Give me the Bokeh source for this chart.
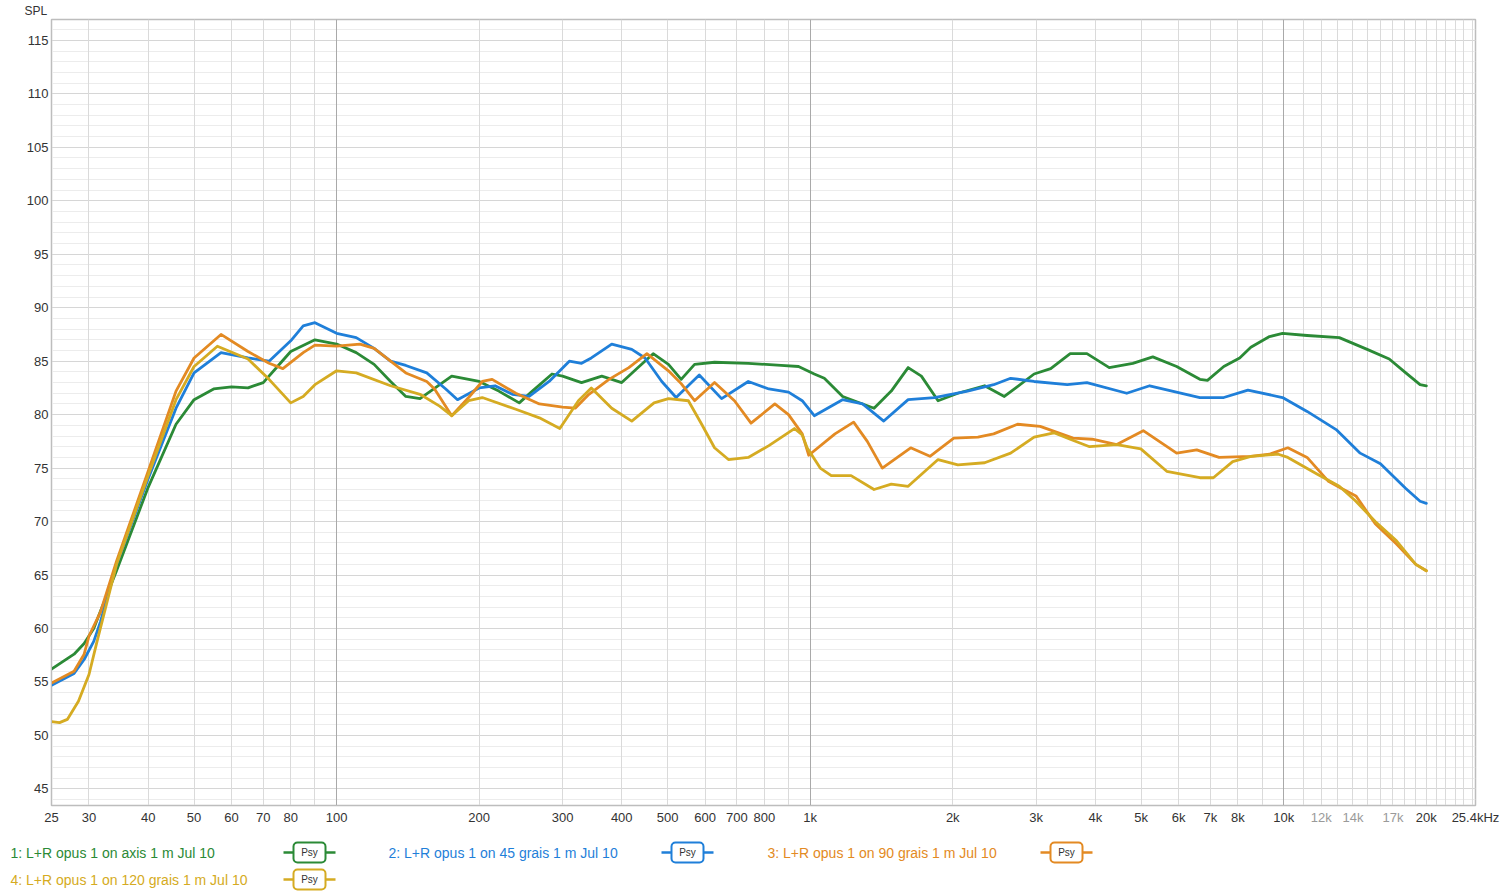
from bokeh.plotting import figure
from bokeh.models import Range1d, FixedTicker, Grid, LogAxis, BoxAnnotation, Label
from bokeh.layouts import column
from bokeh.embed import file_html
from bokeh.resources import INLINE

FONT = "Liberation Sans"

# ---------------- data ----------------
green_hz = [25, 27.9, 29.3, 30.7, 31.7, 34.3, 40, 45.8, 50, 55, 60, 65, 70, 75, 80, 90, 100,
            110, 120, 130, 140, 150, 175, 200, 220, 243, 259, 285, 300, 329, 363, 400, 433,
            466, 502, 534, 570, 628, 740, 868, 945, 1020, 1071, 1171, 1364, 1483, 1610, 1717,
            1862, 2050, 2335, 2570, 2970, 3220, 3540, 3840, 4280, 4800, 5290, 5940, 6650,
            6900, 7470, 8070, 8520, 9330, 9940, 11200, 13100, 15000, 16700, 18100, 19400, 20000]
green_db = [56.2, 57.6, 58.6, 60.0, 61.6, 65.4, 73.2, 79.1, 81.4, 82.4, 82.6, 82.5, 83.0, 84.5,
            85.9, 87.0, 86.6, 85.8, 84.7, 83.1, 81.7, 81.5, 83.6, 83.1, 82.2, 81.1, 82.2, 83.8,
            83.6, 83.0, 83.6, 83.0, 84.4, 85.7, 84.7, 83.3, 84.7, 84.9, 84.8, 84.6, 84.5, 83.8,
            83.4, 81.7, 80.6, 82.2, 84.4, 83.6, 81.3, 82.0, 82.7, 81.7, 83.8, 84.3, 85.7, 85.7,
            84.4, 84.8, 85.4, 84.5, 83.3, 83.2, 84.5, 85.3, 86.3, 87.3, 87.6, 87.4, 87.2, 86.1,
            85.2, 83.9, 82.8, 82.7]

blue_hz = [25, 27.9, 29.3, 30.7, 31.7, 34.3, 40, 45.8, 50, 57, 65, 72, 80, 85, 90, 100, 110,
           120, 130, 140, 155, 170, 180, 200, 216, 235, 255, 281, 310, 329, 345, 381, 420, 448,
           486, 521, 583, 650, 740, 818, 900, 962, 1020, 1170, 1290, 1430, 1610, 1830, 2150,
           2440, 2650, 2970, 3490, 3840, 4660, 5210, 6650, 7470, 8400, 9940, 11200, 12900,
           14500, 16000, 18100, 19400, 20000]
blue_db = [54.7, 55.8, 57.1, 58.8, 60.6, 66.0, 74.0, 80.6, 83.9, 85.8, 85.3, 85.0, 86.9, 88.3,
           88.6, 87.6, 87.2, 86.2, 85.0, 84.6, 83.9, 82.4, 81.4, 82.5, 82.7, 81.9, 81.7, 83.1,
           85.0, 84.8, 85.3, 86.6, 86.1, 85.3, 83.1, 81.6, 83.7, 81.5, 83.1, 82.4, 82.1, 81.3,
           79.9, 81.4, 81.0, 79.4, 81.4, 81.6, 82.2, 82.8, 83.4, 83.1, 82.8, 83.0, 82.0, 82.7,
           81.6, 81.6, 82.3, 81.6, 80.3, 78.6, 76.4, 75.4, 73.1, 71.9, 71.7]

orange_hz = [25, 27.9, 29.3, 30, 31.7, 34.3, 40, 45.8, 50, 57, 65, 72, 77, 85, 90, 100, 112,
             120, 130, 140, 155, 161, 175, 190, 203, 213, 239, 268, 300, 319, 341, 376, 414,
             452, 502, 534, 570, 628, 692, 750, 842, 900, 962, 993, 1128, 1235, 1320, 1420,
             1630, 1790, 2010, 2260, 2440, 2740, 3060, 3590, 3940, 4440, 5050, 5940, 6550,
             7300, 8520, 9330, 10200, 11200, 12400, 13100, 14200, 15600, 17300, 19000, 20000]
orange_db = [54.9, 56.0, 57.6, 59.3, 61.5, 66.3, 74.7, 82.2, 85.3, 87.5, 85.9, 84.8, 84.3, 85.8,
             86.5, 86.4, 86.6, 86.2, 85.0, 83.9, 83.1, 82.4, 79.9, 81.6, 83.1, 83.3, 82.0, 81.0,
             80.7, 80.6, 81.9, 83.3, 84.4, 85.7, 84.1, 82.9, 81.3, 83.0, 81.3, 79.2, 81.0, 80.0,
             78.2, 76.2, 78.2, 79.3, 77.5, 75.0, 76.9, 76.1, 77.8, 77.9, 78.2, 79.1, 78.9, 77.8,
             77.7, 77.2, 78.5, 76.4, 76.7, 76.0, 76.1, 76.3, 76.9, 76.0, 73.8, 73.2, 72.4, 69.8,
             67.9, 66.0, 65.4]

yellow_hz = [25, 26, 27, 28.5, 30, 31.2, 34.3, 40, 45.8, 50, 56, 65, 72, 80, 85, 90, 100, 110,
             130, 150, 165, 175, 190, 203, 239, 268, 296, 324, 345, 381, 420, 468, 502, 553,
             590, 628, 672, 740, 818, 926, 962, 985, 1050, 1108, 1220, 1364, 1483, 1610, 1862,
             2050, 2335, 2650, 2970, 3270, 3540, 3890, 4440, 4990, 5660, 6650, 7100, 7800, 8520,
             9740, 10200, 11800, 13100, 14200, 15600, 17300, 19000, 20000]
yellow_db = [51.3, 51.2, 51.5, 53.2, 55.7, 58.8, 66.0, 74.3, 81.4, 84.5, 86.4, 85.2, 83.3, 81.1,
             81.7, 82.8, 84.1, 83.9, 82.7, 81.9, 80.8, 79.9, 81.3, 81.6, 80.5, 79.7, 78.7, 81.3,
             82.5, 80.6, 79.4, 81.1, 81.5, 81.3, 79.1, 76.9, 75.8, 76.0, 77.1, 78.7, 78.1, 76.9,
             75.0, 74.3, 74.3, 73.0, 73.5, 73.3, 75.8, 75.3, 75.5, 76.4, 77.9, 78.3, 77.7, 77.0,
             77.2, 76.8, 74.7, 74.1, 74.1, 75.6, 76.1, 76.3, 76.0, 74.4, 73.3, 71.9, 70.0, 68.2,
             66.0, 65.4]

series_names = ["1: L+R opus 1 on axis 1 m Jul 10",
                "2: L+R opus 1 on 45 grais 1 m Jul 10",
                "3: L+R opus 1 on 90 grais 1 m Jul 10",
                "4: L+R opus 1 on 120 grais 1 m Jul 10"]
series_colors = ["#2b8a36", "#1f7fd9", "#e38a23", "#d5ab22"]
series_data = [(green_hz, green_db), (blue_hz, blue_db), (orange_hz, orange_db), (yellow_hz, yellow_db)]

x_tick_vals = [25, 30, 40, 50, 60, 70, 80, 100, 200, 300, 400, 500, 600, 700, 800,
               1000, 2000, 3000, 4000, 5000, 6000, 7000, 8000, 10000, 20000, 25400]
x_tick_labels = ["25", "30", "40", "50", "60", "70", "80", "100", "200", "300", "400", "500",
                 "600", "700", "800", "1k", "2k", "3k", "4k", "5k", "6k", "7k", "8k", "10k",
                 "20k", "25.4kHz"]
x_light_vals = [12000, 14000, 17000]
x_light_labels = ["12k", "14k", "17k"]
y_tick_vals = list(range(45, 116, 5))

Y0, Y1 = 43.45, 116.95

# ---------------- main plot ----------------
p = figure(width=1500, height=836, x_axis_type="log",
           x_range=Range1d(25, 25400), y_range=Range1d(Y0, Y1),
           output_backend="svg", toolbar_location=None,
           min_border_left=51, min_border_right=25, min_border_top=19, min_border_bottom=31)
p.background_fill_color = "white"
p.border_fill_color = "white"
p.outline_line_color = "#bdbdbd"
p.outline_line_width = 1.5
p.grid.visible = False

# grid lines
minor_x = []
for dec in (10, 100, 1000):
    for m in range(2, 10):
        v = m * dec
        if v >= 25:
            minor_x.append(v)
minor_x += [k * 1000 for k in range(11, 26)]
g1 = Grid(dimension=1, ticker=FixedTicker(ticks=list(range(44, 117))),
          grid_line_color="#ececec", grid_line_width=1)
g2 = Grid(dimension=1, ticker=FixedTicker(ticks=y_tick_vals),
          grid_line_color="#d6d6d6", grid_line_width=1)
g3 = Grid(dimension=0, ticker=FixedTicker(ticks=minor_x),
          grid_line_color="#dadada", grid_line_width=1)
g4 = Grid(dimension=0, ticker=FixedTicker(ticks=[100, 1000, 10000]),
          grid_line_color="#a9a9a9", grid_line_width=1)
for g in (g1, g2, g3, g4):
    p.add_layout(g)

for (hz, db), c in zip(series_data, series_colors):
    p.line(hz, db, line_color=c, line_width=2.8, line_join="round", line_cap="round")

# axes
xa = p.xaxis[0]
xa.ticker = FixedTicker(ticks=x_tick_vals)
xa.major_label_overrides = {v: l for v, l in zip(x_tick_vals, x_tick_labels)}
xa.minor_tick_line_color = None
xa.major_tick_line_color = None
xa.major_tick_out = 0
xa.major_tick_in = 0
xa.minor_tick_out = 0
xa.axis_line_color = "#bdbdbd"
xa.major_label_standoff = 4
xa.major_label_text_font = FONT
xa.major_label_text_font_size = "13px"
xa.major_label_text_color = "#333333"

xa2 = LogAxis(ticker=FixedTicker(ticks=x_light_vals),
              major_label_overrides={v: l for v, l in zip(x_light_vals, x_light_labels)},
              axis_line_color=None, major_tick_line_color=None, minor_tick_line_color=None,
              major_tick_out=0, major_tick_in=0, minor_tick_out=0,
              major_label_standoff=-18, major_label_text_font=FONT,
              major_label_text_font_size="13px", major_label_text_color="#9a9a9a")
p.add_layout(xa2, "below")

ya = p.yaxis[0]
ya.ticker = FixedTicker(ticks=y_tick_vals)
ya.minor_tick_line_color = None
ya.major_tick_line_color = None
ya.major_tick_out = 0
ya.major_tick_in = 0
ya.minor_tick_out = 0
ya.axis_line_color = "#bdbdbd"
ya.major_label_standoff = 3
ya.major_label_text_font = FONT
ya.major_label_text_font_size = "13px"
ya.major_label_text_color = "#333333"

p.title.text = "SPL"
p.title.align = "left"
p.title.offset = -27
p.title.standoff = 0
p.title.vertical_align = "top"
p.title.text_font = FONT
p.title.text_font_size = "12px"
p.title.text_font_style = "normal"
p.title.text_color = "#333333"

# ---------------- legend strip ----------------
leg = figure(width=1500, height=58, x_range=Range1d(0, 1500), y_range=Range1d(0, 58),
             output_backend="svg", toolbar_location=None,
             x_axis_location=None, y_axis_location=None,
             min_border_left=0, min_border_right=0, min_border_top=0, min_border_bottom=0)
leg.frame_align = False
leg.grid.visible = False
leg.outline_line_color = None
leg.background_fill_color = "white"
leg.border_fill_color = "white"

text_x = [10, 388, 767, 10]
row_y = [42, 42, 42, 15]
box_cx = [309, 687, 1066, 309]
for name, c, tx, ry, bx in zip(series_names, series_colors, text_x, row_y, box_cx):
    leg.add_layout(Label(x=tx, y=ry, text=name, text_color=c, text_font=FONT,
                         text_font_size="14px", text_baseline="middle", text_align="left"))
    leg.segment(x0=[bx - 26, bx + 16], y0=[ry, ry], x1=[bx - 16, bx + 26], y1=[ry, ry],
                line_color=c, line_width=2.5)
    leg.add_layout(BoxAnnotation(left=bx - 16, right=bx + 16, bottom=ry - 10, top=ry + 10,
                                 fill_color="white", fill_alpha=1.0, line_color=c,
                                 line_alpha=1.0, line_width=2, border_radius=4,
                                 level="underlay"))
    leg.add_layout(Label(x=bx, y=ry, text="Psy", text_color="#333333", text_font=FONT,
                         text_font_size="10px", text_baseline="middle", text_align="center"))

layout = column(p, leg, spacing=0)
open("out.html", "w").write(file_html(layout, INLINE))
